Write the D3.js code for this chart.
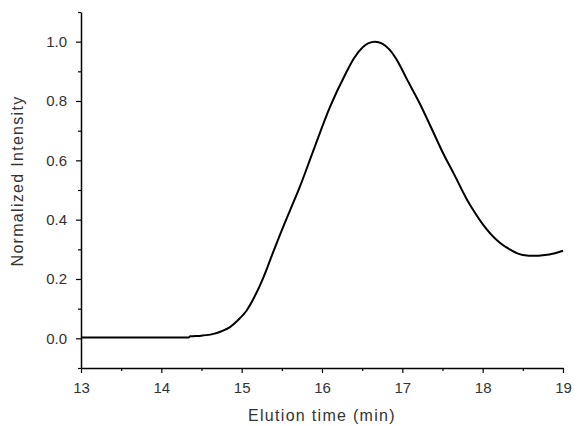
<!DOCTYPE html>
<html>
<head>
<meta charset="utf-8">
<script src="https://cdn.jsdelivr.net/npm/d3@7"></script>
<style>
  html, body { margin: 0; padding: 0; background: #fff; }
  svg { display: block; }
  .tick text { font-family: "Liberation Sans", Arial, sans-serif; font-size: 15px; fill: #333; }
  .title { font-family: "Liberation Sans", Arial, sans-serif; font-size: 16px; fill: #333; letter-spacing: 1.3px; }
</style>
</head>
<body>
<script>
// Elution profile (normalized detector signal vs. time)
const elutionTime = [13.0, 13.5, 14.0, 14.34, 14.36, 14.5, 14.65, 14.75, 14.85, 14.95,
  15.06, 15.15, 15.27, 15.38, 15.48, 15.6, 15.72, 15.89, 16.1, 16.3,
  16.4, 16.51, 16.58, 16.66, 16.75, 16.84, 16.95, 17.05, 17.22, 17.38,
  17.5, 17.65, 17.8, 17.9, 18.0, 18.21, 18.35, 18.5, 18.65, 18.75, 18.9, 19.0];
const intensity = [0.003, 0.003, 0.003, 0.003, 0.007, 0.009, 0.015, 0.024, 0.037, 0.06,
  0.093, 0.135, 0.205, 0.282, 0.351, 0.43, 0.508, 0.631, 0.78, 0.895,
  0.945, 0.982, 0.995, 1.0, 0.993, 0.973, 0.93, 0.877, 0.79, 0.698,
  0.628, 0.55, 0.47, 0.425, 0.385, 0.323, 0.298, 0.281, 0.278, 0.280, 0.287, 0.295];

const xMajorTicks = [13, 14, 15, 16, 17, 18, 19];
const xMinorTicks = [13.5, 14.5, 15.5, 16.5, 17.5, 18.5];
const yMajorTicks = [0.0, 0.2, 0.4, 0.6, 0.8, 1.0];
const yMinorTicks = [-0.1, 0.1, 0.3, 0.5, 0.7, 0.9, 1.1];

const W = 575, H = 427;
const margin = { top: 12, right: 12, bottom: 59, left: 81 };

const svg = d3.select("body").append("svg")
  .attr("width", W).attr("height", H);

const x = d3.scaleLinear().domain([13, 19]).range([margin.left, W - margin.right]);
const y = d3.scaleLinear().domain([-0.1, 1.1]).range([H - margin.bottom, margin.top]);

// minor ticks
svg.append("g")
  .attr("transform", `translate(0,${H - margin.bottom})`)
  .call(d3.axisBottom(x).tickValues(xMinorTicks).tickSize(3).tickFormat(""))
  .call(g => g.select(".domain").remove())
  .call(g => g.selectAll("line").attr("stroke", "#000").attr("stroke-width", 1.2));
svg.append("g")
  .attr("transform", `translate(${margin.left},0)`)
  .call(d3.axisLeft(y).tickValues(yMinorTicks).tickSize(3).tickFormat(""))
  .call(g => g.select(".domain").remove())
  .call(g => g.selectAll("line").attr("stroke", "#000").attr("stroke-width", 1.2));

// major axes
svg.append("g")
  .attr("transform", `translate(0,${H - margin.bottom})`)
  .call(d3.axisBottom(x).tickValues(xMajorTicks).tickSize(5).tickSizeOuter(0).tickPadding(9).tickFormat(d3.format("d")))
  .call(g => g.select(".domain").attr("stroke", "#000").attr("stroke-width", 1.5))
  .call(g => g.selectAll("line").attr("stroke", "#000").attr("stroke-width", 1.2));
svg.append("g")
  .attr("transform", `translate(${margin.left},0)`)
  .call(d3.axisLeft(y).tickValues(yMajorTicks).tickSize(5).tickSizeOuter(0).tickPadding(9).tickFormat(d3.format(".1f")))
  .call(g => g.select(".domain").attr("stroke", "#000").attr("stroke-width", 1.5))
  .call(g => g.selectAll("line").attr("stroke", "#000").attr("stroke-width", 1.2));

// signal trace
const line = d3.line()
  .x((d, i) => x(elutionTime[i]))
  .y(d => y(d))
  .curve(d3.curveMonotoneX);

svg.append("path")
  .attr("d", line(intensity))
  .attr("fill", "none")
  .attr("stroke", "#000")
  .attr("stroke-width", 2)
  .attr("stroke-linejoin", "round");

// axis titles
svg.append("text")
  .attr("class", "title")
  .attr("x", (x(13) + x(19)) / 2)
  .attr("y", 421)
  .attr("text-anchor", "middle")
  .text("Elution time (min)");

svg.append("text")
  .attr("class", "title")
  .attr("transform", "translate(23,181) rotate(-90)")
  .attr("text-anchor", "middle")
  .text("Normalized Intensity");
</script>
</body>
</html>
